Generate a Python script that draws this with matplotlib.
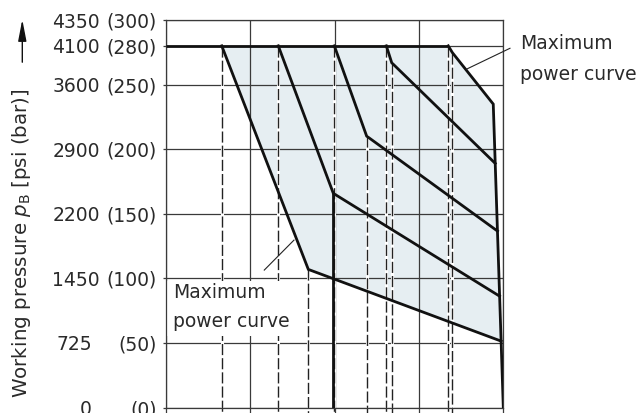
import matplotlib
matplotlib.use('Agg')
import matplotlib.pyplot as plt
import matplotlib.patches as mpatches
from matplotlib.transforms import offset_copy

plt.rcParams['font.family'] = ['DejaVu Sans']
plt.rcParams['lines.scale_dashes'] = False

# ---- data (x in grid units, y in bar) ----
bar_ticks = [0, 50, 100, 150, 200, 250, 280, 300]
bar_labels = ['(0)', '(50)', '(100)', '(150)', '(200)', '(250)', '(280)', '(300)']
psi_labels = ['0', '725', '1450', '2200', '2900', '3600', '4100', '4350']
x_grid = [0, 1, 2, 3, 4]
p_max = 280

curve1_x = [0.664, 1.690, 3.974]
curve1_y = [280, 106.9, 51.4]
curve2_x = [1.334, 1.986, 3.956]
curve2_y = [280, 165.8, 86.2]
curve3_x = [1.998, 2.381, 3.931]
curve3_y = [280, 210.1, 136.6]
curve4_x = [2.614, 2.678, 3.904]
curve4_y = [280, 266.9, 189.0]
boundary_x = [3.348, 3.396, 3.881, 4.0]
boundary_y = [280, 274.8, 234.9, 0]

leader_top_x = [3.566, 4.079]
leader_top_y = [262, 278.1]
leader_low_x = [1.168, 1.520]
leader_low_y = [106.4, 129.6]

# ---- figure ----
W, H = 643, 413
fig = plt.figure(figsize=(W / 100, H / 100), dpi=100)
ax = fig.add_axes([165.7 / W, 1 - 407.5 / H, 337.6 / W, 387.5 / H])
ax.set_xlim(0, 4)
ax.set_ylim(0, 300)

grid_c = '#3a3a3a'
txt_c = '#2a2a2a'
fs = 13.5

# fill region
fill_x = curve1_x + boundary_x[2::-1]
fill_y = curve1_y + boundary_y[2::-1]
ax.fill(fill_x, fill_y, color='#e6eef2', lw=0, zorder=0.5)

# grid
for y in bar_ticks:
    ax.axhline(y, color=grid_c, lw=0.9, zorder=1)
for x in x_grid:
    ax.axvline(x, color=grid_c, lw=0.9, zorder=1)

# dashed drop lines
drops = [(curve1_x[0], curve1_y[0]), (curve1_x[1], curve1_y[1]),
         (curve2_x[0], curve2_y[0]), (curve3_x[0], curve3_y[0]),
         (curve3_x[1], curve3_y[1]), (curve4_x[0], curve4_y[0]),
         (curve4_x[1], curve4_y[1]), (boundary_x[0], boundary_y[0]),
         (boundary_x[1], boundary_y[1])]
for x, y in drops:
    ax.plot([x, x], [y, -6], color='white', lw=2.2, zorder=1.4, clip_on=False)
    ax.plot([x, x], [y, -6], color='#222222', lw=1.0, dashes=(8, 2.2),
            zorder=1.5, clip_on=False)

# solid drop at curve 2 knee
ax.plot([curve2_x[1], curve2_x[1]], [curve2_y[1], 0], color='#111111',
        lw=2.0, zorder=3)

# max pressure line
ax.plot([0, boundary_x[0]], [p_max, p_max], color='#111111', lw=2.0,
        zorder=3, solid_capstyle='butt')

# curves
for xs, ys in [(curve1_x, curve1_y), (curve2_x, curve2_y),
               (curve3_x, curve3_y), (curve4_x, curve4_y),
               (boundary_x, boundary_y)]:
    ax.plot(xs, ys, color='#111111', lw=2.0, zorder=3,
            solid_joinstyle='miter')

# leaders
ax.plot(leader_top_x, leader_top_y, color='#222222', lw=0.8, zorder=3,
        clip_on=False)
ax.plot(leader_low_x, leader_low_y, color='#222222', lw=0.8, zorder=3)

# white box behind lower label
box = mpatches.Rectangle((166 / W, 1 - 336 / H), 134 / W, 55 / H,
                         transform=fig.transFigure, facecolor='white',
                         edgecolor='none', zorder=2)
ax.add_patch(box)

# lower annotation
fig.text(173 / W, 1 - 297.7 / H, 'Maximum', fontsize=fs, color=txt_c,
         va='baseline', ha='left', zorder=5)
fig.text(173 / W, 1 - 327.3 / H, 'power curve', fontsize=fs, color=txt_c,
         va='baseline', ha='left', zorder=5)
# upper annotation
fig.text(520 / W, 1 - 49.3 / H, 'Maximum', fontsize=fs, color=txt_c,
         va='baseline', ha='left')
fig.text(520 / W, 1 - 80 / H, 'power curve', fontsize=fs, color=txt_c,
         va='baseline', ha='left')

# ticks
ax.set_yticks(bar_ticks, bar_labels)
ax.set_xticks(x_grid, [''] * len(x_grid))
ax.tick_params(axis='y', length=2.2, width=0.9, color=grid_c, pad=4.3,
               labelsize=fs, labelcolor=txt_c)
ax.tick_params(axis='x', length=5, width=0.9, color=grid_c)
for s in ax.spines.values():
    s.set_color(grid_c)
    s.set_linewidth(0.9)

for y, lab in zip(bar_ticks, psi_labels):
    off = 47.3 if len(lab) == 4 else 53.3
    tr = offset_copy(ax.get_yaxis_transform(), fig=fig, x=-off, y=0,
                     units='points')
    ax.text(0, y, lab, transform=tr, ha='right', va='center_baseline',
            fontsize=fs, color=txt_c, clip_on=False)

# y label and arrow
fig.text(22 / W, 1 - 243 / H, r'Working pressure $p_{\mathrm{B}}$ [psi (bar)]',
         rotation=90, ha='center', va='center', fontsize=14.3, color=txt_c)
fig.patches.append(mpatches.FancyArrowPatch(
    (22.3 / W, 1 - 65 / H), (22.3 / W, 1 - 16.7 / H),
    transform=fig.transFigure, arrowstyle='-|>,head_length=1.3,head_width=0.25',
    mutation_scale=10, color='#111111', lw=1.0))

fig.savefig('out.png', dpi=100)
